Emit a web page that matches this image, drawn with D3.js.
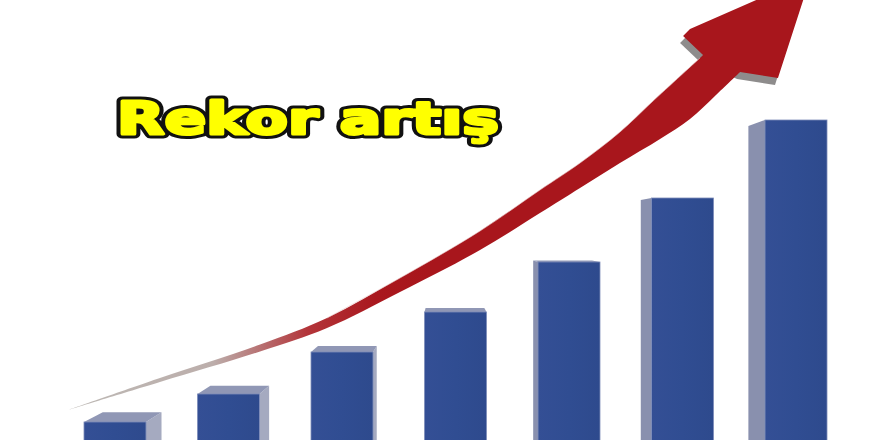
<!DOCTYPE html>
<html><head><meta charset="utf-8">
<script src="https://cdn.jsdelivr.net/npm/d3@7"></script>
<style>html,body{margin:0;padding:0;background:#fff;overflow:hidden}</style>
</head><body><svg id="c" width="880" height="440"></svg>
<script>
// ---- data ----
const categories = ["1", "2", "3", "4", "5", "6", "7"];
const values = [12, 19, 29.5, 39.5, 52, 68, 87.5];
const titleText = "Rekor artış";
// trend arrow edges in data units: [category position, value]
const arrowUpper = [[-0.414,15],[0.396,23],[1.278,31.375],[1.868,38],[2.511,48],[3.216,59.75],[3.744,70],[4.097,76.75],[4.449,84.5],[4.731,92],[5.154,103]];
const arrowLower = [[-0.414,15],[0.396,22],[1.278,29.625],[1.868,35.5],[2.511,44.5],[3.216,55],[3.744,64.25],[4.097,70.5],[4.449,76.75],[4.802,82.75],[5.066,87.75],[5.286,93.5],[5.507,99.5]];
const arrowHead = [[5.181,103.75],[5.005,108.5],[5.066,110.25],[6.132,123.5],[5.841,98],[5.507,99.5]];

// ---- setup ----
const W = 880, H = 440;
const svg = d3.select("#c");
const x = d3.scaleBand().domain(categories).range([84, 827]).paddingInner(0.454).paddingOuter(0);
const y = d3.scaleLinear().domain([0, 100]).range([470, 70]);
const bw = x.bandwidth();
const xt = d3.scaleLinear().domain([0, categories.length - 1])
  .range([x(categories[0]) + bw / 2, x(categories[categories.length - 1]) + bw / 2]);

const defs = svg.append("defs");
defs.append("clipPath").attr("id", "clip").append("rect").attr("width", W).attr("height", H);
const grad = defs.append("linearGradient").attr("id", "arrowGrad")
  .attr("gradientUnits", "userSpaceOnUse")
  .attr("x1", xt(-0.414)).attr("x2", 430).attr("y1", 0).attr("y2", 0);
[[0, "#bdb9b5"], [0.4, "#bcaeab"], [0.66, "#b3353a"], [0.85, "#a9181e"], [1, "#a8161c"]]
  .forEach(([o, c]) => grad.append("stop").attr("offset", o).attr("stop-color", c));
const fgrad = defs.append("linearGradient").attr("id", "frontGrad").attr("x1", 0).attr("x2", 1);
[[0, "#344f95"], [0.5, "#304d92"], [1, "#2e4a8d"]]
  .forEach(([o, c]) => fgrad.append("stop").attr("offset", o).attr("stop-color", c));

svg.append("rect").attr("width", W).attr("height", H).attr("fill", "#ffffff");
const g = svg.append("g").attr("clip-path", "url(#clip)");

// ---- bars as perspective boxes ----
const VP = { x: 445, y: 235 }, k = 0.052;
const proj = (px, py) => [px + k * (VP.x - px), py + k * (VP.y - py)];
const poly = pts => "M" + pts.map(p => p.join(",")).join("L") + "Z";

const bars = g.selectAll("g.bar").data(categories.map((c, i) => ({ c, v: values[i] })))
  .join("g").attr("class", "bar");
bars.each(function (d) {
  const sel = d3.select(this);
  const fl = x(d.c), fr = fl + bw, ft = y(d.v), fb = y(0);
  if (fr < VP.x) {
    sel.append("path").attr("d", poly([[fr, ft], proj(fr, ft), proj(fr, fb), [fr, fb]]))
      .attr("fill", "#a5aac0");
  }
  if (fl > VP.x) {
    sel.append("path").attr("d", poly([[fl, ft], proj(fl, ft), proj(fl, fb), [fl, fb]]))
      .attr("fill", "#8990ae");
  }
  if (ft > VP.y) {
    sel.append("path").attr("d", poly([[fl, ft], [fr, ft], proj(fr, ft), proj(fl, ft)]))
      .attr("fill", "#9097b5");
  }
  sel.append("rect").attr("x", fl).attr("y", ft).attr("width", bw).attr("height", fb - ft)
    .attr("fill", "url(#frontGrad)").attr("stroke", "#7d8cb8").attr("stroke-width", 0.8);
});

// ---- trend arrow ----
const toPx = p => [xt(p[0]), y(p[1])];
const curve = d3.line().curve(d3.curveCatmullRom.alpha(0.5));
const up = arrowUpper.map(toPx);
const lowRev = arrowLower.map(toPx).reverse();
const head = arrowHead.map(toPx);
const upPath = curve(up);
const lowPath = curve(lowRev).replace(/^M/, "L");
const headPath = head.map(p => "L" + p.join(",")).join("");
const arrowD = upPath + headPath + lowPath + "Z";

// 3D gray underside of head
g.append("path").attr("d", poly(head.map(p => [p[0] - 3, p[1] + 7])))
  .attr("fill", "#8e8c8c");
g.append("path").attr("d", arrowD).attr("fill", "url(#arrowGrad)");
g.append("path").attr("d", curve(up.slice(3)))
  .attr("fill", "none").attr("stroke", "#e9c9c9").attr("stroke-width", 1).attr("opacity", 0.6);

// ---- title ----
const tAttrs = s => s.attr("x", 117).attr("y", 133.5)
  .attr("font-family", "'DejaVu Sans', sans-serif").attr("font-weight", "bold")
  .attr("font-size", 45).attr("textLength", 382).attr("lengthAdjust", "spacingAndGlyphs")
  .attr("stroke-linejoin", "round").text(titleText);
g.append("text").call(tAttrs).attr("fill", "#111").attr("stroke", "#111").attr("stroke-width", 9);
g.append("text").call(tAttrs).attr("fill", "#ffff00").attr("stroke", "#ffff00").attr("stroke-width", 3);
</script>
</body></html>
